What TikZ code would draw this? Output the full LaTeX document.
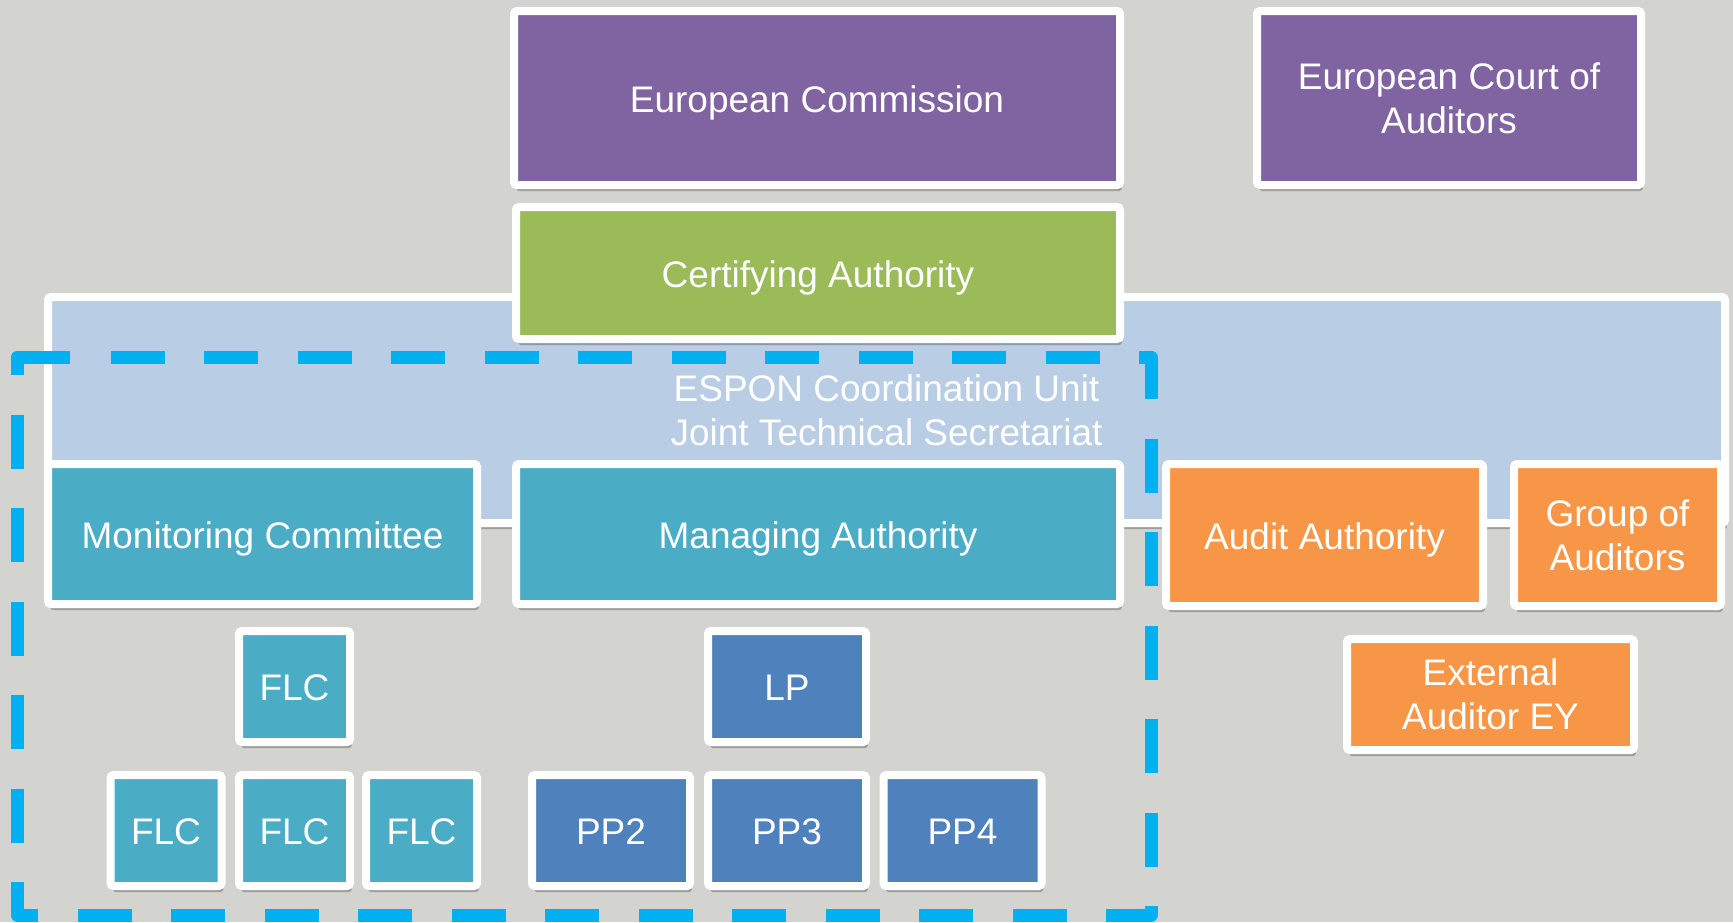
\documentclass[tikz,border=0pt]{standalone}
\usepackage{fontspec}
\setmainfont{Liberation Sans}
\usetikzlibrary{shadows}
\definecolor{bg}{RGB}{211,212,207}
\definecolor{purp}{RGB}{128,100,162}
\definecolor{grn}{RGB}{155,187,89}
\definecolor{lblue}{RGB}{185,205,229}
\definecolor{tealc}{RGB}{75,172,198}
\definecolor{dblue}{RGB}{79,129,189}
\definecolor{orng}{RGB}{247,150,70}
\definecolor{cyanline}{RGB}{0,176,240}
\begin{document}
\begin{tikzpicture}[x=0.5pt,y=-0.5pt,
  box/.style={draw=white, line width=4pt, rounded corners=1.5pt, text=white,
    align=center, inner sep=0pt, font=\fontsize{18.5}{22}\selectfont,
    drop shadow={shadow xshift=1pt, shadow yshift=-3pt, opacity=0.25, fill=black}},
  oneline/.style={text height=14.2pt, text depth=0pt},
  sq/.style={box, oneline, minimum width=55.5pt, minimum height=55.5pt},
  pp/.style={box, oneline, fill=dblue, minimum width=79pt, minimum height=55.5pt},
  frameline/.style={draw=cyanline, line width=6.5pt, line join=round},
  dashframe/.style={frameline, dash pattern=on 27pt off 19.75pt, dash phase=31.5pt}
]
\fill[bg] (0,0) rectangle (1733,922);
\useasboundingbox (0,0) rectangle (1733,922);

\node[box, fill=lblue, minimum width=838.5pt, minimum height=113pt] (espon) at (886.5,410) {ESPON Coordination Unit\\Joint Technical Secretariat};
\node[box, oneline, fill=purp, minimum width=303pt, minimum height=87pt] (ec) at (817,98) {European Commission};
\node[box, fill=purp, minimum width=192pt, minimum height=87pt] (eca) at (1449,98) {European Court of\\Auditors};
\node[box, oneline, fill=grn, minimum width=302pt, minimum height=66pt] (ca) at (818,273) {Certifying Authority};
\node[box, oneline, fill=tealc, minimum width=214.5pt, minimum height=70pt] (mc) at (262.5,534) {Monitoring Committee};
\node[box, oneline, fill=tealc, minimum width=302pt, minimum height=70pt] (ma) at (818,534) {Managing Authority};
\node[box, oneline, fill=orng, minimum width=158.5pt, minimum height=71pt] (aa) at (1324.5,535) {Audit Authority};
\node[box, fill=orng, minimum width=103.5pt, minimum height=71pt] (goa) at (1617.5,535) {Group of\\Auditors};
\node[box, fill=orng, minimum width=143.5pt, minimum height=55.5pt] (ey) at (1490.5,694.5) {External\\Auditor EY};

\node[sq, fill=tealc] (flc0) at (294.5,686.5) {FLC};
\node[sq, fill=tealc] (flc1) at (166,830.5) {FLC};
\node[sq, fill=tealc] (flc2) at (294.5,830.5) {FLC};
\node[sq, fill=tealc] (flc3) at (421.5,830.5) {FLC};

\node[pp] (lp) at (787,686.5) {LP};
\node[pp] (pp2) at (611,830.5) {PP2};
\node[pp] (pp3) at (787,830.5) {PP3};
\node[pp] (pp4) at (962.5,830.5) {PP4};

\coordinate (dstart) at (80,357);
\coordinate (dtl) at (17,357);
\coordinate (dtr) at (1151,357);
\coordinate (dbr) at (1151,915);
\coordinate (dbl) at (17,915);
\coordinate (dcorner) at (70,357);
\draw[dashframe] (dstart) -- (dtr) -- (dbr) -- (dbl) -- (dtl) -- cycle;
\draw[frameline] (dtl) -- (dcorner);
\end{tikzpicture}
\end{document}
